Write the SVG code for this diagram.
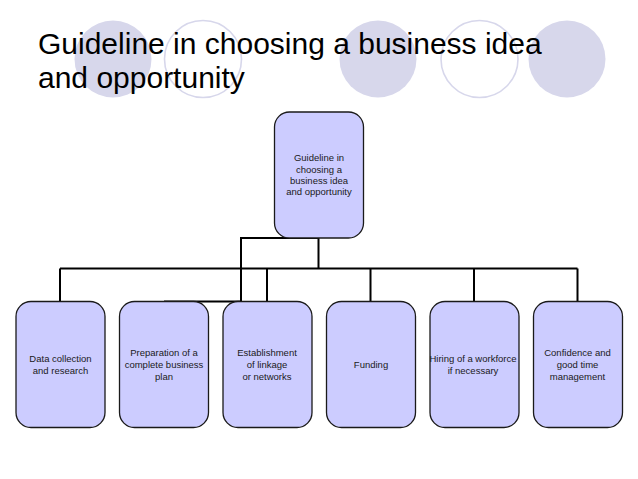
<svg xmlns="http://www.w3.org/2000/svg" width="638" height="479" viewBox="0 0 638 479">
<style>
.bgf{fill:#d7d7eb;stroke:none}
.bgo{fill:none;stroke:#d7d7eb;stroke-width:1.6}
.title{font-family:"Liberation Sans",Arial,sans-serif;font-size:30px;fill:#000}
.box{fill:#ccccff;stroke:#1a1a1a;stroke-width:1.3}
.lbl{font-family:"Liberation Sans",Arial,sans-serif;font-size:9.5px;fill:#1a1a1a;text-anchor:middle}
.con{fill:none;stroke:#000;stroke-width:2}
</style>
<rect width="638" height="479" fill="#fff"/>
<g id="background">
<circle class="bgf" cx="113" cy="59" r="38.5"/>
<circle class="bgo" cx="203" cy="59" r="38.5"/>
<circle class="bgf" cx="378" cy="59" r="38.5"/>
<circle class="bgo" cx="479.5" cy="59" r="38.5"/>
<circle class="bgf" cx="567" cy="59" r="38.5"/>
</g>
<g id="title">
<text class="title" x="38" y="54">Guideline in choosing a business idea</text>
<text class="title" x="38" y="88">and opportunity</text>
</g>
<g id="connectors">
<path class="con" d="M318.5,238 V268.5" stroke-width="2.5"/>
<path class="con" d="M60,268.5 H577.5"/>
<path class="con" d="M318.5,238 H241 V301.5 H164"/>
<path class="con" d="M60,268.5 V301.5 M267,268.5 V301.5 M370.5,268.5 V301.5 M474,268.5 V301.5 M577.5,268.5 V301.5"/>
</g>
<g id="root">
<rect class="box" x="274.5" y="112" width="89" height="126" rx="15"/>
<text class="lbl" x="319" y="161">Guideline in</text>
<text class="lbl" x="319" y="173">choosing a</text>
<text class="lbl" x="319" y="184">business idea</text>
<text class="lbl" x="319" y="195">and opportunity</text>
</g>
<g id="n1">
<rect class="box" x="16" y="301.5" width="89" height="126" rx="15"/>
<text class="lbl" x="60.5" y="362">Data collection</text>
<text class="lbl" x="60.5" y="374">and research</text>
</g>
<g id="n2">
<rect class="box" x="119.5" y="301.5" width="89" height="126" rx="15"/>
<text class="lbl" x="164" y="356">Preparation of a</text>
<text class="lbl" x="164" y="368">complete business</text>
<text class="lbl" x="164" y="380">plan</text>
</g>
<g id="n3">
<rect class="box" x="223" y="301.5" width="89" height="126" rx="15"/>
<text class="lbl" x="267" y="356">Establishment</text>
<text class="lbl" x="267" y="368">of linkage</text>
<text class="lbl" x="267" y="380">or networks</text>
</g>
<g id="n4">
<rect class="box" x="326.5" y="301.5" width="89" height="126" rx="15"/>
<text class="lbl" x="371" y="368">Funding</text>
</g>
<g id="n5">
<rect class="box" x="430" y="301.5" width="89" height="126" rx="15"/>
<text class="lbl" x="473" y="362">Hiring of a workforce</text>
<text class="lbl" x="473" y="374">if necessary</text>
</g>
<g id="n6">
<rect class="box" x="533.5" y="301.5" width="89" height="126" rx="15"/>
<text class="lbl" x="577.5" y="356">Confidence and</text>
<text class="lbl" x="577.5" y="368">good time</text>
<text class="lbl" x="577.5" y="380">management</text>
</g>
</svg>
